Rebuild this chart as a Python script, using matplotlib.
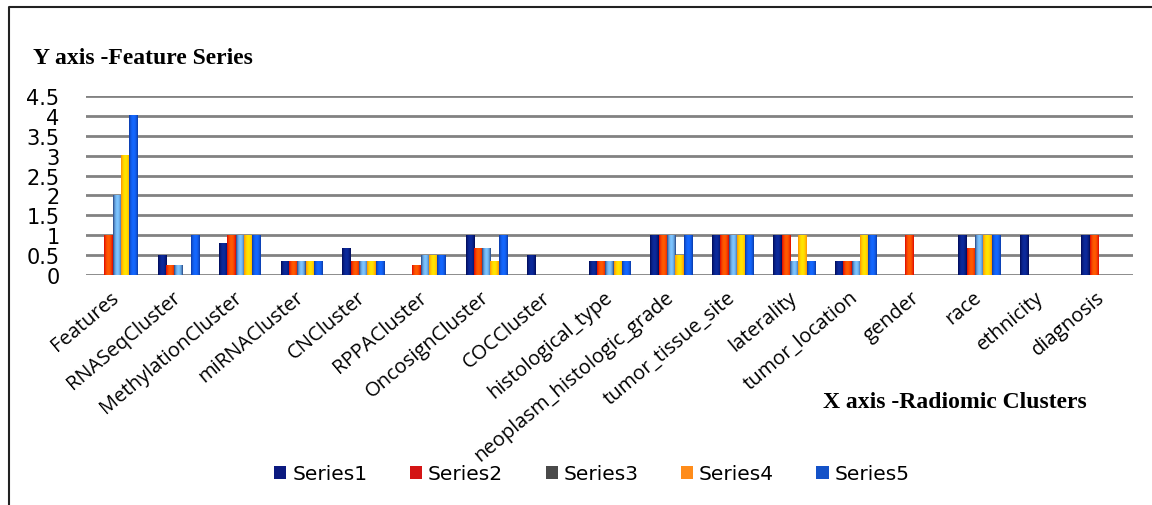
import numpy as np
import matplotlib
matplotlib.use("Agg")
import matplotlib.pyplot as plt
from matplotlib.lines import Line2D
from matplotlib.colors import to_rgb

categories = ["Features", "RNASeqCluster", "MethylationCluster", "miRNACluster",
              "CNCluster", "RPPACluster", "OncosignCluster", "COCCluster",
              "histological_type", "neoplasm_histologic_grade", "tumor_tissue_site",
              "laterality", "tumor_location", "gender", "race", "ethnicity", "diagnosis"]

series1 = [0, 0.5, 0.8, 0.33, 0.67, 0, 1, 0.5, 0.33, 1, 1, 1, 0.33, 0, 1, 1, 1]
series2 = [1, 0.25, 1, 0.33, 0.33, 0.25, 0.67, 0, 0.33, 1, 1, 1, 0.33, 1, 0.67, 0, 1]
series3 = [2, 0.25, 1, 0.33, 0.33, 0.5, 0.67, 0, 0.33, 1, 1, 0.33, 0.33, 0, 1, 0, 0]
series4 = [3, 0, 1, 0.33, 0.33, 0.5, 0.33, 0, 0.33, 0.5, 1, 1, 1, 0, 1, 0, 0]
series5 = [4, 1, 1, 0.33, 0.33, 0.5, 1, 0, 0.33, 1, 1, 0.33, 1, 0, 1, 0, 0]

series_names = ["Series1", "Series2", "Series3", "Series4", "Series5"]
y_ticks = [0, 0.5, 1, 1.5, 2, 2.5, 3, 3.5, 4, 4.5]
y_tick_labels = ["0", "0.5", "1", "1.5", "2", "2.5", "3", "3.5", "4", "4.5"]

# legend swatch colour, gradient edge colour, gradient centre colour
styles = [
    ("#0b1a80", "#000850", "#0c2a9c"),
    ("#d41515", "#dc0000", "#ff5a00"),
    ("#4a4a4a", "#1e3a78", "#7cc4ff"),
    ("#ff8c1a", "#ff8a00", "#ffe400"),
    ("#1452c8", "#0a36a0", "#1468ff"),
]

W, H = 1152, 506
fig = plt.figure(figsize=(W / 100, H / 100), dpi=100)
ax = fig.add_axes([86 / W, 1 - 276 / H, (1133 - 86) / W, (276 - 97) / H])

x = np.arange(len(categories))
bw = 0.135
all_series = [series1, series2, series3, series4, series5]


def gradient(edge, centre, n=40):
    u = np.linspace(0, 1, n)
    t = np.sin(np.pi * u) ** 0.7
    e, c = np.array(to_rgb(edge)), np.array(to_rgb(centre))
    return (e[None, :] * (1 - t[:, None]) + c[None, :] * t[:, None])[None, :, :]


handles = []
for k, (vals, name, (solid, edge, centre)) in enumerate(zip(all_series, series_names, styles)):
    bars = ax.bar(x + (k - 2) * bw, vals, width=bw, color=solid, zorder=2,
                  linewidth=0, label=name)
    handles.append(bars)
    img = gradient(edge, centre)
    for r in bars:
        h = r.get_height()
        if h > 0:
            x0 = r.get_x()
            ax.imshow(img, extent=[x0, x0 + r.get_width(), 0, h], aspect="auto",
                      interpolation="bilinear", zorder=3)

ax.set_xlim(-0.5, len(categories) - 0.5)
ax.set_ylim(0, 4.5)
ax.set_yticks(y_ticks)
ax.set_yticklabels(y_tick_labels, fontsize=15, fontfamily="DejaVu Sans")
ax.set_xticks(x)
ax.set_xticklabels(categories, rotation=40, ha="right", va="center",
                   rotation_mode="anchor", fontsize=14.5, fontfamily="Open Sans")
for s in ax.spines.values():
    s.set_visible(False)
ax.yaxis.grid(True, color="#828282", linewidth=2.0)
ax.set_axisbelow(True)
ax.yaxis.set_tick_params(length=0, pad=19)
ax.xaxis.set_tick_params(length=0, pad=14)

fig.text(33 / W, 1 - 59 / H, "Y axis -Feature Series", fontsize=17,
         fontweight="bold", fontfamily="Liberation Serif", ha="left", va="center")
fig.text(823 / W, 1 - 403 / H, "X axis -Radiomic Clusters", fontsize=17,
         fontweight="bold", fontfamily="Liberation Serif", ha="left", va="center")

fig.legend(handles=handles, labels=series_names, loc="center",
           bbox_to_anchor=(592 / W, 1 - 475 / H), ncol=5, frameon=False,
           handlelength=0.6, handleheight=0.6, handletextpad=0.3,
           columnspacing=2.1, prop={"family": "DejaVu Sans", "size": 14.5})

# outer frame (left and top edges)
fig.add_artist(Line2D([8.5 / W, 8.5 / W, 1.0], [0.0, 1 - 7.5 / H, 1 - 7.5 / H],
                      transform=fig.transFigure, color="#222222", linewidth=1.5))

fig.savefig("out.png", dpi=100)
